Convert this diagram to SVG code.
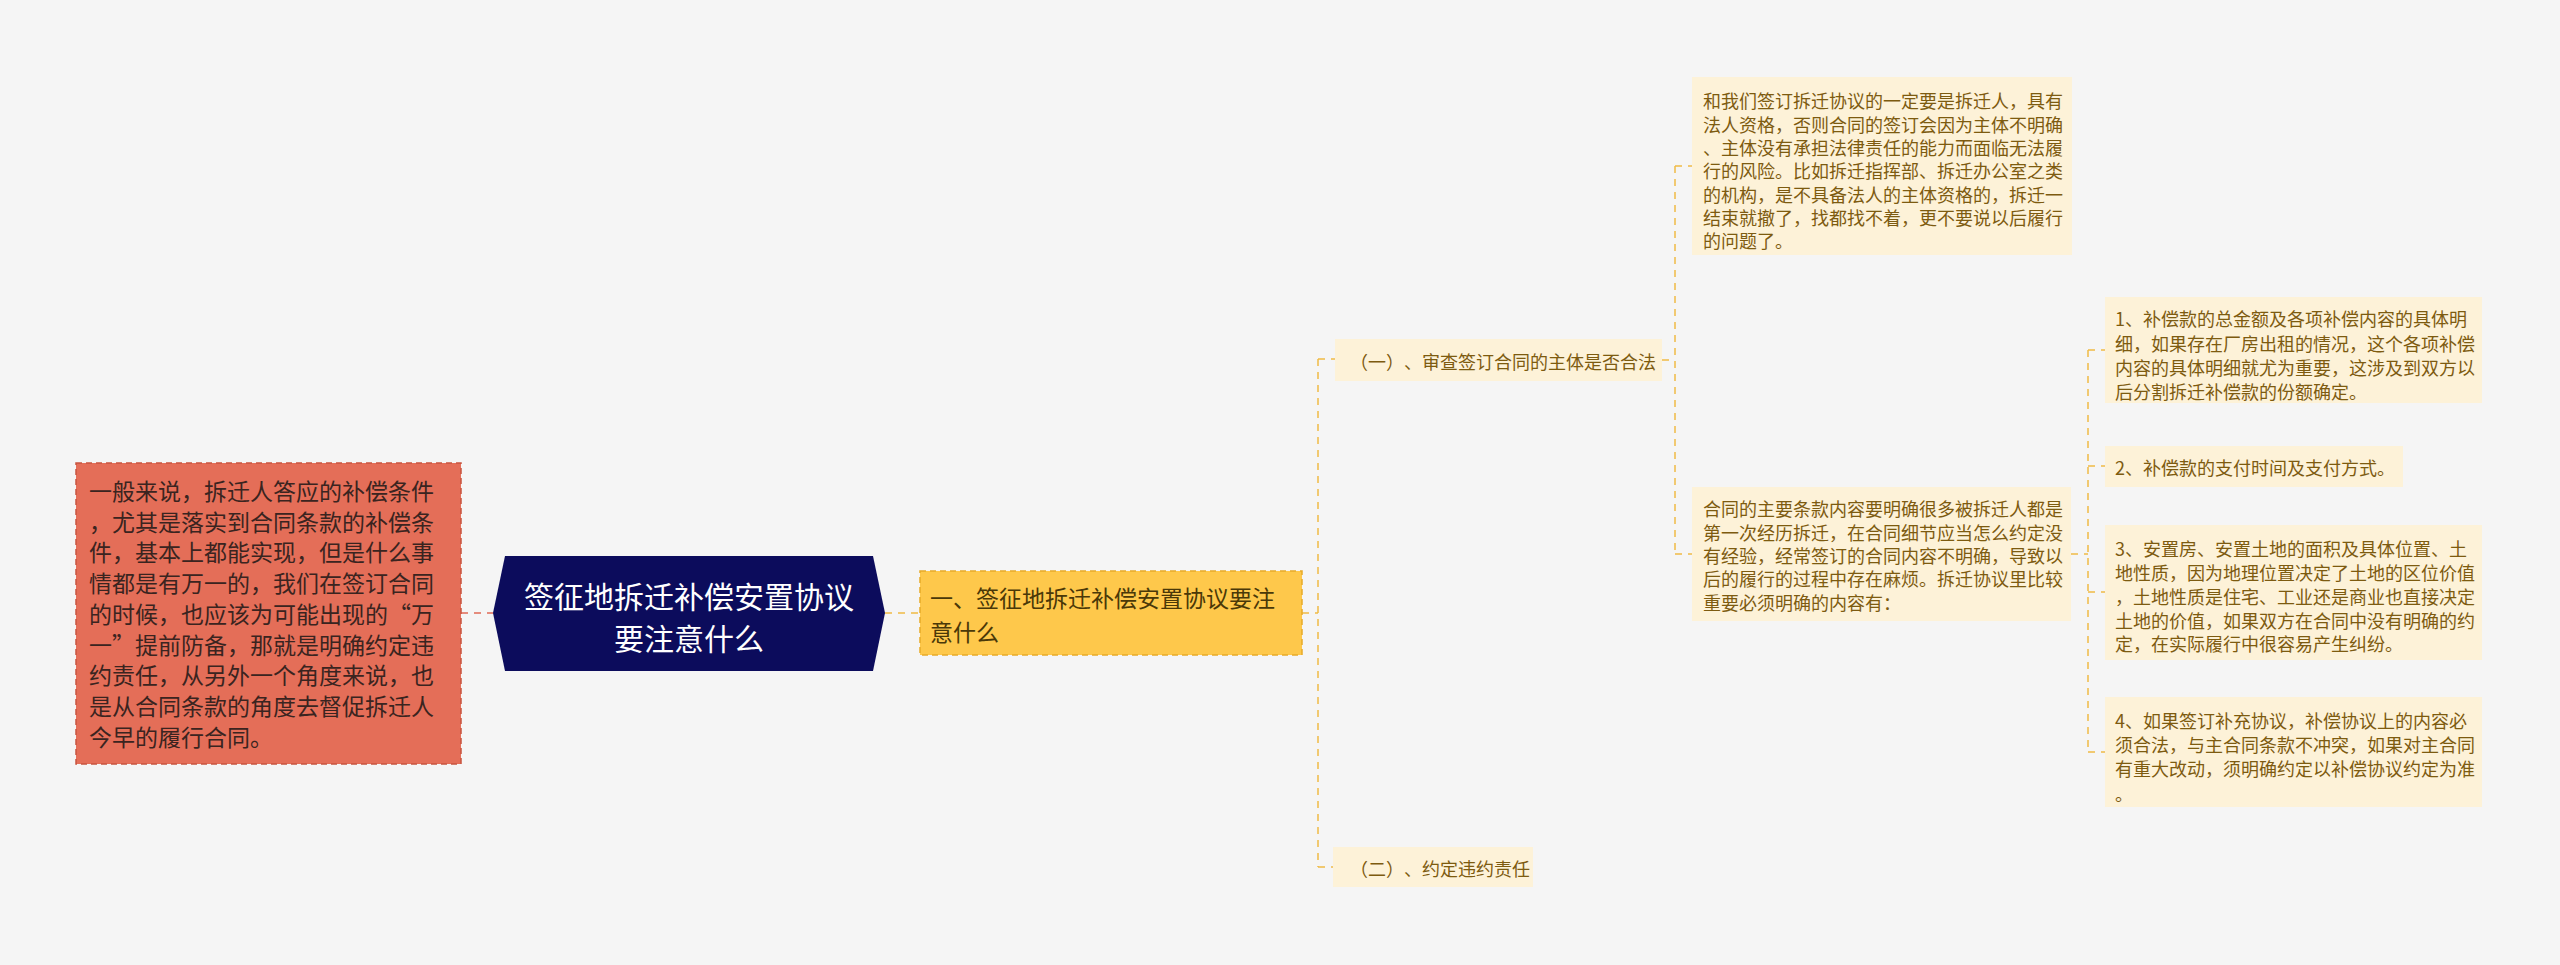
<svg xmlns="http://www.w3.org/2000/svg" width="2560" height="965" viewBox="0 0 2560 965">
<style>
text{font-family:"Noto Sans CJK SC","Noto Sans",sans-serif;dominant-baseline:central;text-spacing-trim:space-all}
.red{fill:#e46e58;stroke:#c8543f;stroke-width:1.5;stroke-dasharray:6 4}
.redt{font-size:23px;fill:#3a2420}
.navy{fill:#0c0c5c}
.navyt{font-size:30px;fill:#ffffff;text-anchor:middle}
.yel{fill:#fec84b;stroke:#e8ab28;stroke-width:1.5;stroke-dasharray:6 4}
.yelt{font-size:23px;fill:#4a3808}
.cream{fill:#fdf2d8}
.ct{font-size:18px;fill:#7d5b10}
.cl{fill:none;stroke:#f0bb45;stroke-width:1.5;stroke-dasharray:7 6}
.cr{fill:none;stroke:#e06a55;stroke-width:1.5;stroke-dasharray:7 6}
</style>
<rect width="2560" height="965" fill="#f5f5f5"/>
<g id="connectors">
<path class="cr" d="M461 613H493"/>
<path class="cl" d="M885 613H920"/>
<path class="cl" d="M1302 613H1318M1318 359V867M1318 359H1335M1318 867H1333"/>
<path class="cl" d="M1662 360H1675M1675 166V554M1675 166H1692M1675 554H1692"/>
<path class="cl" d="M2071 554H2088M2088 350V752M2088 350H2105M2088 466H2105M2088 592H2105M2088 752H2105"/>
</g>
<g id="node-left">
<rect class="red" x="76" y="463" width="385" height="301"/>
<text class="redt" x="89"><tspan x="89" y="490">一般来说，拆迁人答应的补偿条件</tspan><tspan x="89" y="521">，尤其是落实到合同条款的补偿条</tspan><tspan x="89" y="551">件，基本上都能实现，但是什么事</tspan><tspan x="89" y="582">情都是有万一的，我们在签订合同</tspan><tspan x="89" y="613">的时候，也应该为可能出现的“万</tspan><tspan x="89" y="644">一”提前防备，那就是明确约定违</tspan><tspan x="89" y="674">约责任，从另外一个角度来说，也</tspan><tspan x="89" y="705">是从合同条款的角度去督促拆迁人</tspan><tspan x="89" y="736">今早的履行合同。</tspan></text>
</g>
<g id="node-root">
<polygon class="navy" points="493,613 505,556 873,556 885,613 873,671 505,671"/>
<text class="navyt"><tspan x="689" y="595">签征地拆迁补偿安置协议</tspan><tspan x="689" y="637">要注意什么</tspan></text>
</g>
<g id="node-main">
<rect class="yel" x="920" y="571" width="382" height="84"/>
<text class="yelt"><tspan x="930" y="597">一、签征地拆迁补偿安置协议要注</tspan><tspan x="930" y="631">意什么</tspan></text>
</g>
<g id="node-sub1">
<rect class="cream" x="1335" y="339" width="327" height="42"/>
<text class="ct" x="1350" y="361">（一）、审查签订合同的主体是否合法</text>
</g>
<g id="node-sub2">
<rect class="cream" x="1333" y="847" width="200" height="40"/>
<text class="ct" x="1350" y="868">（二）、约定违约责任</text>
</g>
<g id="node-l3a">
<rect class="cream" x="1692" y="77" width="380" height="178"/>
<text class="ct"><tspan x="1703" y="100">和我们签订拆迁协议的一定要是拆迁人，具有</tspan><tspan x="1703" y="123.5">法人资格，否则合同的签订会因为主体不明确</tspan><tspan x="1703" y="147">、主体没有承担法律责任的能力而面临无法履</tspan><tspan x="1703" y="170">行的风险。比如拆迁指挥部、拆迁办公室之类</tspan><tspan x="1703" y="193.5">的机构，是不具备法人的主体资格的，拆迁一</tspan><tspan x="1703" y="217">结束就撤了，找都找不着，更不要说以后履行</tspan><tspan x="1703" y="240">的问题了。</tspan></text>
</g>
<g id="node-l3b">
<rect class="cream" x="1692" y="487" width="379" height="134"/>
<text class="ct"><tspan x="1703" y="508">合同的主要条款内容要明确很多被拆迁人都是</tspan><tspan x="1703" y="532">第一次经历拆迁，在合同细节应当怎么约定没</tspan><tspan x="1703" y="555">有经验，经常签订的合同内容不明确，导致以</tspan><tspan x="1703" y="578">后的履行的过程中存在麻烦。拆迁协议里比较</tspan><tspan x="1703" y="602">重要必须明确的内容有：</tspan></text>
</g>
<g id="node-l4a">
<rect class="cream" x="2105" y="297" width="377" height="106"/>
<text class="ct"><tspan x="2115" y="318">1、补偿款的总金额及各项补偿内容的具体明</tspan><tspan x="2115" y="343">细，如果存在厂房出租的情况，这个各项补偿</tspan><tspan x="2115" y="367">内容的具体明细就尤为重要，这涉及到双方以</tspan><tspan x="2115" y="391">后分割拆迁补偿款的份额确定。</tspan></text>
</g>
<g id="node-l4b">
<rect class="cream" x="2105" y="446" width="298" height="41"/>
<text class="ct" x="2115" y="467">2、补偿款的支付时间及支付方式。</text>
</g>
<g id="node-l4c">
<rect class="cream" x="2105" y="525" width="377" height="135"/>
<text class="ct"><tspan x="2115" y="548">3、安置房、安置土地的面积及具体位置、土</tspan><tspan x="2115" y="572">地性质，因为地理位置决定了土地的区位价值</tspan><tspan x="2115" y="596">，土地性质是住宅、工业还是商业也直接决定</tspan><tspan x="2115" y="620">土地的价值，如果双方在合同中没有明确的约</tspan><tspan x="2115" y="643">定，在实际履行中很容易产生纠纷。</tspan></text>
</g>
<g id="node-l4d">
<rect class="cream" x="2105" y="697" width="377" height="110"/>
<text class="ct"><tspan x="2115" y="720">4、如果签订补充协议，补偿协议上的内容必</tspan><tspan x="2115" y="744">须合法，与主合同条款不冲突，如果对主合同</tspan><tspan x="2115" y="768">有重大改动，须明确约定以补偿协议约定为准</tspan><tspan x="2115" y="793">。</tspan></text>
</g>
</svg>
